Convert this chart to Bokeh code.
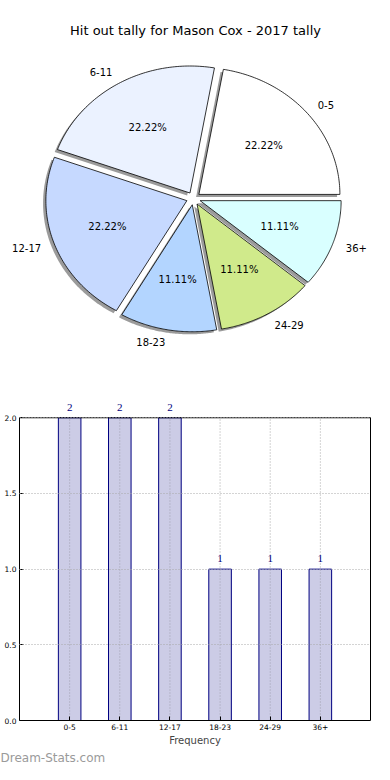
import numpy as np
from bokeh.plotting import figure
from bokeh.models import (Range1d, Label, LabelSet, FixedTicker, NumeralTickFormatter,
                          ColumnDataSource, LinearAxis, Span)
from bokeh.core.properties import value
from bokeh.embed import file_html
from bokeh.resources import INLINE

# ---- data ----
title_text = "Hit out tally for Mason Cox - 2017 tally"
categories = ["0-5", "6-11", "12-17", "18-23", "24-29", "36+"]
counts = [2, 2, 2, 1, 1, 1]
pie_colors = ["#FFFFFF", "#EBF2FF", "#C6D9FF", "#B3D5FF", "#D0EA8B", "#D9FFFF"]
y_ticks = [0.0, 0.5, 1.0, 1.5, 2.0]
y_max = 2.0
x_label = "Frequency"
watermark = "Dream-Stats.com"

FONT = "DejaVu Sans"
W = 374

# ---- pie figure ----
PIE_H = 400
rx_px, ry_px = 141.0, 127.0
cx_px, cy_px = 193.0, 198.0  # pie centre inside the figure (from left, from top)
pie = figure(width=W, height=PIE_H, output_backend="svg", toolbar_location=None,
             x_range=Range1d(-cx_px / rx_px, (W - cx_px) / rx_px),
             y_range=Range1d(-(PIE_H - cy_px) / ry_px, cy_px / ry_px),
             x_axis_location=None, y_axis_location=None, title=None,
             min_border=0)
pie.grid.visible = False
pie.outline_line_color = None

total = float(sum(counts))
fracs = np.array(counts, dtype=float) / total
ends = np.cumsum(fracs) * 2 * np.pi
starts = np.concatenate([[0.0], ends[:-1]])
explode = 0.05
xs, ys, sxs, sys_ = [], [], [], []
lx, ly, lalign, px_, py_, ptxt = [], [], [], [], [], []
for s, e, f in zip(starts, ends, fracs):
    m = 0.5 * (s + e)
    cx, cy = explode * np.cos(m), explode * np.sin(m)
    t = np.linspace(s, e, 80)
    wx = np.concatenate([[cx], cx + np.cos(t), [cx]])
    wy = np.concatenate([[cy], cy + np.sin(t), [cy]])
    xs.append(list(wx)); ys.append(list(wy))
    sxs.append(list(wx - 0.02)); sys_.append(list(wy - 0.02))
    tx = cx + 1.1 * np.cos(m)
    lx.append(tx); ly.append(cy + 1.1 * np.sin(m))
    lalign.append("left" if tx > 0 else "right")
    px_.append(cx + 0.6 * np.cos(m)); py_.append(cy + 0.6 * np.sin(m))
    ptxt.append(f"{f * 100:.2f}%")

pie.patches(xs=sxs, ys=sys_, fill_color="#7a7a7a", fill_alpha=0.75, line_color=None)
pie.patches(xs=xs, ys=ys, fill_color=pie_colors, line_color="black", line_width=0.8)
pie.text(x=lx, y=ly, text=categories, text_align=lalign, text_baseline="middle",
         text_font=value(FONT), text_font_size="10px", text_color="black")
pie.text(x=px_, y=py_, text=ptxt, text_align="center", text_baseline="middle",
         text_font=value(FONT), text_font_size="10px", text_color="black")
pie.add_layout(Label(x=195, y=PIE_H - 30, x_units="screen", y_units="screen",
                     text=title_text, text_align="center", text_baseline="middle",
                     text_font=FONT, text_font_size="13px", text_color="black"))

# ---- bar figure ----
BAR_H = 764 - PIE_H
BL, BR = 19, 4
xpos = list(range(len(categories)))
src = ColumnDataSource(dict(x=xpos, top=counts, lab=[str(c) for c in counts]))
bar = figure(width=W, height=BAR_H, output_backend="svg", toolbar_location=None,
             x_range=Range1d(-1, len(categories)), y_range=Range1d(0, y_max * 1.057),
             title=watermark, title_location="below",
             min_border_left=BL, min_border_right=BR, min_border_top=0, min_border_bottom=0)
bar.outline_line_color = None

# vertical dotted grid lines, only within 0..y_max
bar.segment(x0=xpos, y0=[0] * len(xpos), x1=xpos, y1=[y_max] * len(xpos),
            line_color="#a8a8a8", line_dash="1 2", line_width=1)
bar.vbar(x="x", top="top", width=0.45, bottom=0, source=src,
         fill_color="#CCCCE6", line_color="#000080", line_width=1)
bar.segment(x0=xpos, y0=[0] * len(xpos), x1=xpos, y1=counts,
            line_color="#a0a0b0", line_dash="1 2", line_width=1)
bar.add_layout(LabelSet(x="x", y="top", text="lab", source=src, text_align="center",
                        text_baseline="alphabetic", y_offset=7,
                        text_font=FONT, text_font_size="11px", text_color="#000080"))
bar.add_layout(Span(location=y_max, dimension="width", line_color="black", line_width=1))

bar.xaxis.ticker = FixedTicker(ticks=xpos)
bar.xaxis.major_label_overrides = {i: c for i, c in enumerate(categories)}
bar.yaxis.ticker = FixedTicker(ticks=y_ticks)
bar.yaxis.formatter = NumeralTickFormatter(format="0.0")
bar.yaxis.bounds = (0, y_max)
right_ax = LinearAxis(ticker=FixedTicker(ticks=[]), bounds=(0, y_max))
bar.add_layout(right_ax, "right")
for ax in (bar.xaxis[0], bar.yaxis[0], right_ax):
    ax.major_tick_in = 4
    ax.major_tick_out = 0
    ax.minor_tick_line_color = None
    ax.axis_line_color = "black"
    ax.axis_line_width = 1
    ax.major_tick_line_color = "black"
for ax in (bar.xaxis[0], bar.yaxis[0]):
    ax.major_label_text_font = FONT
    ax.major_label_text_font_size = "7.5px"
    ax.major_label_text_color = "black"
    ax.major_label_standoff = 3
bar.xaxis.axis_label = x_label
bar.xaxis.axis_label_text_font = FONT
bar.xaxis.axis_label_text_font_size = "10px"
bar.xaxis.axis_label_text_font_style = "normal"
bar.xaxis.axis_label_standoff = 2
bar.xgrid.visible = False
bar.ygrid.ticker = FixedTicker(ticks=y_ticks)
bar.ygrid.grid_line_color = "#a8a8a8"
bar.ygrid.grid_line_dash = "1 2"
bar.ygrid.level = "overlay"

bar.title.align = "left"
bar.title.offset = -BL
bar.title.standoff = 0
bar.title.text_font = FONT
bar.title.text_font_size = "12px"
bar.title.text_font_style = "normal"
bar.title.text_color = "#9a9a9a"

open("out.html", "w").write(file_html([pie, bar], INLINE))
